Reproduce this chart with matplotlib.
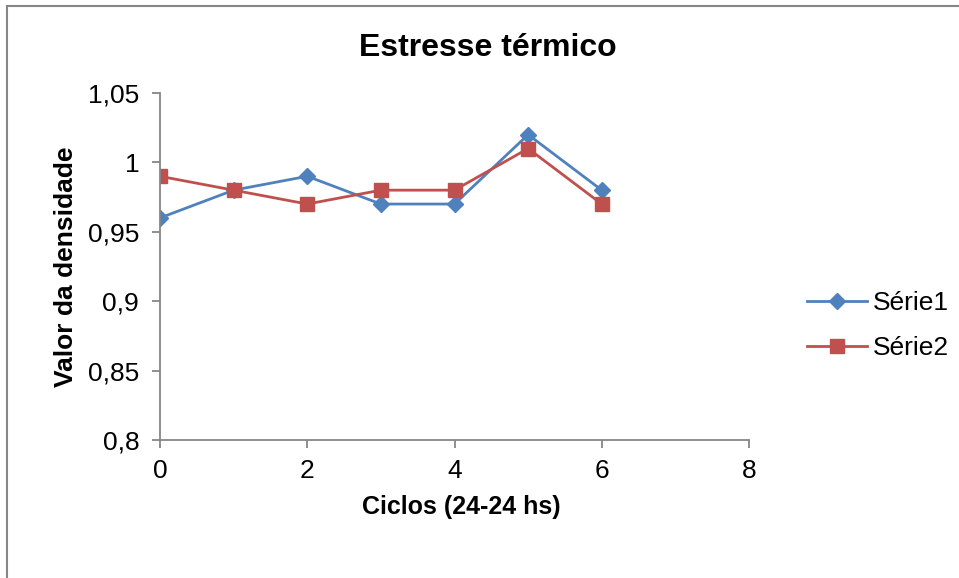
import matplotlib.pyplot as plt
from matplotlib.lines import Line2D
from matplotlib.ticker import FuncFormatter

plt.rcParams['font.family'] = ['Liberation Sans', 'DejaVu Sans']

# data
ciclos = [0, 1, 2, 3, 4, 5, 6]
serie1 = [0.96, 0.98, 0.99, 0.97, 0.97, 1.02, 0.98]
serie2 = [0.99, 0.98, 0.97, 0.98, 0.98, 1.01, 0.97]
x_ticks = [0, 2, 4, 6, 8]
y_ticks = [0.8, 0.85, 0.9, 0.95, 1.0, 1.05]

axis_gray = '#868686'

fig = plt.figure(figsize=(9.59, 5.78), dpi=100)
ax = fig.add_axes([160 / 959, 1 - 440 / 578, 589 / 959, 347 / 578])

ax.plot(ciclos, serie1, color='#4F81BD', lw=2, marker='D', markersize=8.5, label='Série1')
ax.plot(ciclos, serie2, color='#C0504D', lw=2, marker='s', markersize=10, label='Série2')

ax.set_xlim(0, 8)
ax.set_ylim(0.8, 1.05)
ax.set_xticks(x_ticks)
ax.set_yticks(y_ticks)

# comma as decimal separator, no trailing zeros
def comma_fmt(v, pos):
    s = ('%.2f' % v).rstrip('0').rstrip('.')
    return s.replace('.', ',')

ax.yaxis.set_major_formatter(FuncFormatter(comma_fmt))

for side in ['top', 'right']:
    ax.spines[side].set_visible(False)
for side in ['left', 'bottom']:
    ax.spines[side].set_color(axis_gray)
    ax.spines[side].set_linewidth(1.3)
ax.tick_params(axis='both', direction='out', length=6, width=1.3, color=axis_gray,
               labelsize=19)
ax.tick_params(axis='x', pad=8)
ax.tick_params(axis='y', pad=9)

# title is centred on the whole chart area, not on the plot
fig.text(488 / 959, 1 - 56 / 578, 'Estresse térmico', fontsize=23, fontweight='bold',
         ha='center', va='baseline')
ax.set_xlabel('Ciclos (24-24 hs)', fontsize=18, fontweight='bold')
ax.xaxis.set_label_coords(0.511, -0.158)
ax.set_ylabel('Valor da densidade', fontsize=19, fontweight='bold', labelpad=7)

ax.legend(loc='center left', bbox_to_anchor=(1.08, 0.33), frameon=False,
          fontsize=19, handlelength=2.3, handletextpad=0.2, labelspacing=0.8,
          borderaxespad=0)

# outer chart frame (only left and top edges are inside the image)
fig.add_artist(Line2D([7 / 959, 7 / 959], [0, 1 - 6 / 578], color=axis_gray, lw=1.5))
fig.add_artist(Line2D([7 / 959, 1], [1 - 6 / 578, 1 - 6 / 578], color=axis_gray, lw=1.5))

fig.savefig('out.png', dpi=100)
